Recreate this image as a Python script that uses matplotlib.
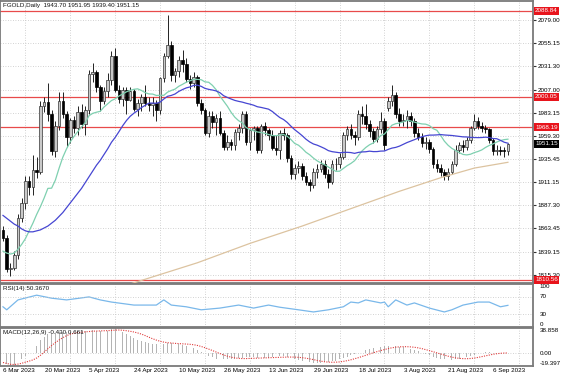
import numpy as np
import pandas as pd
import matplotlib
matplotlib.use('Agg')
import matplotlib.pyplot as plt
from matplotlib.transforms import blended_transform_factory

plt.rcParams['font.family'] = ['Liberation Sans', 'DejaVu Sans']

# --- FGOLD daily bars ---
opens = [1862, 1854, 1821, 1823, 1836, 1874, 1890, 1913, 1906, 1924, 1922, 1990, 1994, 1982, 1944, 1970,
         1995, 1982, 1958, 1976, 1967, 1984, 1972, 1986, 2023, 2025, 2010, 1995, 2006, 2017, 2042, 2007,
         1998, 2007, 1997, 2006, 1987, 1993, 2000, 1993, 1991, 1993, 1986, 2019, 2042, 2053, 2022, 2027,
         2038, 2034, 2018, 2014, 2020, 1993, 1986, 1962, 1980, 1974, 1978, 1962, 1948, 1953, 1950, 1963,
         1968, 1982, 1953, 1965, 1967, 1945, 1970, 1965, 1960, 1947, 1945, 1962, 1960, 1936, 1920, 1926,
         1928, 1918, 1912, 1908, 1922, 1925, 1930, 1920, 1912, 1930, 1930, 1938, 1960, 1966, 1960, 1958,
         1982, 1980, 1972, 1964, 1956, 1966, 1975, 1988, 1995, 2002, 1982, 1975, 1976, 1980, 1975, 1962,
         1958, 1952, 1953, 1946, 1930, 1926, 1922, 1918, 1922, 1930, 1945, 1950, 1948, 1955, 1968, 1975,
         1970, 1968, 1966, 1955, 1944, 1945, 1944, 1943.70]
highs = [1866, 1857, 1828, 1840, 1878, 1895, 1918, 1918, 1940, 1938, 1995, 2000, 2014, 1986, 1975, 2005,
         2005, 1985, 1978, 1980, 1990, 1992, 1990, 2028, 2035, 2028, 2012, 2010, 2024, 2047, 2050, 2012,
         2010, 2010, 2010, 2008, 1998, 2003, 2012, 2000, 2000, 1996, 2020, 2045, 2085, 2058, 2030, 2042,
         2048, 2040, 2022, 2025, 2022, 1998, 1988, 1985, 1985, 1982, 1985, 1965, 1960, 1956, 1966, 1972,
         1985, 1985, 1968, 1970, 1970, 1972, 1974, 1968, 1965, 1960, 1965, 1968, 1962, 1940, 1930, 1933,
         1931, 1922, 1915, 1926, 1930, 1934, 1934, 1925, 1934, 1936, 1942, 1963, 1970, 1972, 1964, 1986,
         1990, 1992, 1976, 1968, 1970, 1984, 1978, 2000, 2012, 2005, 1988, 1982, 1986, 1984, 1978, 1967,
         1962, 1958, 1956, 1948, 1935, 1930, 1925, 1926, 1933, 1950, 1953, 1955, 1958, 1970, 1982, 1979,
         1974, 1971, 1968, 1957, 1950, 1949, 1948, 1951.95]
lows = [1850, 1818, 1814, 1820, 1832, 1870, 1884, 1898, 1898, 1916, 1920, 1984, 1975, 1940, 1938, 1965,
        1978, 1948, 1952, 1962, 1960, 1968, 1960, 1982, 2015, 2005, 1985, 1992, 2000, 2012, 2005, 1993,
        1990, 1982, 1995, 1985, 1980, 1985, 1990, 1985, 1980, 1975, 1982, 2015, 2040, 2016, 2015, 2020,
        2025, 2015, 2008, 2010, 1990, 1982, 1960, 1958, 1968, 1960, 1960, 1945, 1945, 1945, 1945, 1955,
        1962, 1950, 1945, 1955, 1942, 1942, 1960, 1955, 1945, 1940, 1935, 1955, 1932, 1915, 1915, 1921,
        1914, 1908, 1902, 1905, 1916, 1922, 1916, 1905, 1910, 1924, 1926, 1935, 1955, 1956, 1950, 1955,
        1972, 1966, 1958, 1952, 1953, 1962, 1945, 1985, 1990, 1978, 1970, 1970, 1968, 1970, 1958, 1955,
        1948, 1946, 1942, 1926, 1922, 1918, 1914, 1914, 1920, 1928, 1942, 1943, 1945, 1952, 1965, 1966,
        1963, 1962, 1952, 1940, 1940, 1940, 1938, 1939.40]
closes = [1854, 1821, 1823, 1836, 1874, 1890, 1913, 1906, 1924, 1922, 1990, 1994, 1982, 1944, 1970, 1995,
          1982, 1958, 1976, 1967, 1984, 1972, 1986, 2023, 2025, 2010, 1995, 2006, 2017, 2042, 2007, 1998,
          2007, 1997, 2006, 1987, 1993, 2000, 1993, 1991, 1993, 1986, 2019, 2042, 2053, 2022, 2027, 2038,
          2034, 2018, 2014, 2020, 1993, 1986, 1962, 1980, 1974, 1978, 1962, 1948, 1953, 1950, 1963, 1968,
          1982, 1953, 1965, 1967, 1945, 1970, 1965, 1960, 1947, 1945, 1962, 1960, 1936, 1920, 1926, 1928,
          1918, 1912, 1908, 1922, 1925, 1930, 1920, 1912, 1930, 1930, 1938, 1960, 1966, 1960, 1958, 1982,
          1980, 1972, 1964, 1956, 1966, 1975, 1950, 1995, 2002, 1982, 1975, 1976, 1980, 1975, 1962, 1958,
          1952, 1953, 1946, 1930, 1926, 1922, 1918, 1922, 1930, 1945, 1950, 1948, 1955, 1968, 1975, 1970,
          1968, 1966, 1955, 1944, 1945, 1944, 1943.70, 1951.15]

fast_period = 14
fast_start = [1840, 1838, 1837, 1838, 1842, 1847, 1853, 1861, 1869, 1878, 1886, 1895, 1905]
mid_period = 30
mid_start = [1877, 1874, 1871, 1868, 1866, 1863, 1861, 1860, 1860, 1861, 1862, 1864, 1866, 1869, 1872,
             1876, 1880, 1885, 1890, 1895, 1900, 1905, 1911, 1917, 1923, 1929, 1934, 1940, 1946]
slow_idx = [34, 52, 66, 80, 93, 106, 117, 126, 135]
slow_ma = [1806, 1828, 1848, 1866, 1884, 1902, 1916, 1926, 1932]

levels = [2088.84, 2000.05, 1968.19, 1810.56]
price_ticks = [2079.00, 2055.15, 2031.30, 2007.00, 1983.15, 1959.30, 1935.45, 1911.15, 1887.30, 1863.45,
               1839.15, 1815.30]

# RSI(14), read at a few bars
rsi_idx = [0, 1, 4, 9, 13, 17, 23, 26, 29, 35, 41, 43, 45, 49, 53, 58, 63, 67, 71, 74, 79, 83, 87, 91, 93,
           95, 97, 101, 102, 103, 105, 108, 110, 114, 118, 120, 123, 127, 130, 133, 135]
rsi_vals = [47, 40, 63, 74, 67, 63, 70, 63, 58, 51, 51, 63, 51, 47, 40, 44, 51, 44, 51, 46, 40, 35, 40, 47,
            58, 56, 63, 56, 58, 47, 63, 51, 56, 44, 35, 40, 51, 58, 58, 47, 50.367]

# MACD(12,26,9) main line
macd_main = [-14, -17, -19.397, -18, -14, -9, -4, 0, 5, 12,
             20, 25, 29, 30, 31, 32, 33, 32, 33, 33,
             34, 34, 35, 36, 36, 35, 34, 34, 35, 37,
             38.858, 36, 33, 30, 27, 24, 21, 19, 17, 16,
             15, 14, 14, 15, 16, 16, 15, 14, 13, 12,
             10, 8, 5, 2, -1, -4, -6, -8, -9, -9,
             -9, -9, -8, -7, -7, -6, -6, -6, -7, -7,
             -7, -7, -6, -5, -4, -4, -5, -6, -8, -10,
             -12, -13, -14, -15, -15, -15, -14, -13, -12, -11,
             -9, -7, -5, -3, -1, 1, 3, 5, 7, 8,
             9, 10, 11, 12, 12, 11, 10, 9, 8, 6,
             5, 3, 1, -1, -3, -5, -7, -8, -9, -10,
             -10, -9, -8, -7, -6, -4, -2, 0, 1, 2,
             2, 1, 0.579, 0, -0.2, -0.43]

date_pos = [0, 10, 22, 34, 46, 58, 70, 82, 94, 106, 118, 130]
date_labels = ['6 Mar 2023', '20 Mar 2023', '5 Apr 2023', '24 Apr 2023', '10 May 2023', '26 May 2023',
               '13 Jun 2023', '29 Jun 2023', '18 Jul 2023', '3 Aug 2023', '21 Aug 2023', '6 Sep 2023']
vgrid = [6, 18, 30, 42, 54, 66, 78, 90, 102, 114, 126, 138]

df = pd.DataFrame({'open': opens, 'high': highs, 'low': lows, 'close': closes})
x = np.arange(len(df))

fast = df['close'].rolling(fast_period).mean()
fast.iloc[:len(fast_start)] = fast_start
mid = df['close'].rolling(mid_period).mean()
mid.iloc[:len(mid_start)] = mid_start
signal = pd.Series(macd_main).rolling(9, min_periods=1).mean()

FS = 4.5
frame = '#7a7a7a'
grid_kw = dict(color='#c4c4c4', linestyle=(0, (1, 2)), linewidth=0.6)

fig = plt.figure(figsize=(5.64, 3.76), dpi=100)
ax = fig.add_axes([0.0, 0.2473, 0.945, 0.750])
ax_rsi = fig.add_axes([0.0, 0.1303, 0.945, 0.1144])
ax_macd = fig.add_axes([0.0, 0.0266, 0.945, 0.101])

for a in (ax, ax_rsi, ax_macd):
    a.set_xlim(-0.8, 141.7)
    a.set_xticks(vgrid)
    a.tick_params(axis='x', length=0, labelbottom=False)
    for s in a.spines.values():
        s.set_color(frame)
        s.set_linewidth(1.3)
    a.grid(axis='x', **grid_kw)
    a.set_axisbelow(True)

# --- main price panel ---
ax.set_ylim(1807.0, 2099.0)
ax.yaxis.tick_right()
ax.set_yticks(price_ticks)
ax.set_yticklabels([f'{p:.2f}' for p in price_ticks], fontsize=FS)
ax.tick_params(axis='y', length=2, pad=1.5, color='#333333')
ax.grid(axis='y', **grid_kw)

up = df['close'] >= df['open']
body_lo = np.minimum(df['open'], df['close'])
body_h = np.maximum((df['close'] - df['open']).abs(), 0.7)
ax.vlines(x, df['low'], df['high'], color='#222222', linewidth=0.7, zorder=2)
ax.bar(x[up], body_h[up], bottom=body_lo[up], width=0.7, color='#c9c9c9',
       edgecolor='#333333', linewidth=0.5, zorder=3)
ax.bar(x[~up], body_h[~up], bottom=body_lo[~up], width=0.7, color='#000000',
       edgecolor='#000000', linewidth=0.5, zorder=3)

ax.plot(x, fast, color='#7fd0b0', linewidth=0.9, zorder=4)
ax.plot(x, mid, color='#4646d2', linewidth=0.9, zorder=4)
ax.plot(slow_idx, slow_ma, color='#dcc3a0', linewidth=0.9, zorder=4)

for lv in levels:
    ax.axhline(lv, color='#e84a4a', linewidth=0.9, zorder=1)

ytrans = blended_transform_factory(ax.transAxes, ax.transData)
for lv in levels:
    ax.text(1.004, lv, f'{lv:.2f}', transform=ytrans, fontsize=FS, color='white', va='center', ha='left',
            bbox=dict(facecolor='#e8141c', edgecolor='none', boxstyle='square,pad=0.25'), zorder=6,
            clip_on=False)
ax.text(1.004, closes[-1], f'{closes[-1]:.2f}', transform=ytrans, fontsize=FS, color='white', va='center',
        ha='left', bbox=dict(facecolor='#000000', edgecolor='none', boxstyle='square,pad=0.25'), zorder=6,
        clip_on=False)

ax.text(0.006, 0.993, f'FGOLD,Daily  {opens[-1]:.2f} {highs[-1]:.2f} {lows[-1]:.2f} {closes[-1]:.2f}',
        transform=ax.transAxes, fontsize=FS, va='top', ha='left', color='#111111')

# --- RSI panel ---
ax_rsi.set_ylim(0, 100)
ax_rsi.set_yticks([])
ax_rsi.plot(rsi_idx, rsi_vals, color='#7ab8ea', linewidth=0.9)
for lv in (30, 70):
    ax_rsi.axhline(lv, **grid_kw)
rtrans = blended_transform_factory(ax_rsi.transAxes, ax_rsi.transData)
for v, va in ((100, 'top'), (70, 'center'), (30, 'center'), (0, 'bottom')):
    ax_rsi.text(1.012, v, str(v), transform=rtrans, fontsize=FS, va=va, ha='left', clip_on=False)
ax_rsi.text(0.006, 0.95, f'RSI(14) {rsi_vals[-1]:.4f}', transform=ax_rsi.transAxes, fontsize=FS,
            va='top', ha='left', color='#111111')

# --- MACD panel ---
ax_macd.set_ylim(-19.397, 38.858)
ax_macd.set_yticks([])
ax_macd.bar(x, macd_main, width=0.22, color='#b4b4b4', zorder=2)
ax_macd.plot(x, signal, color='#e03a3a', linestyle=(0, (1, 1.2)), linewidth=0.8, zorder=3)
ax_macd.axhline(0, **grid_kw)
mtrans = blended_transform_factory(ax_macd.transAxes, ax_macd.transData)
for v, s, va in ((38.858, '38.858', 'top'), (0, '0.00', 'center'), (-19.397, '-19.397', 'bottom')):
    ax_macd.text(1.012, v, s, transform=mtrans, fontsize=FS, va=va, ha='left', clip_on=False)
ax_macd.text(0.006, 0.95, f'MACD(12,26,9) {macd_main[-1]:.3f} {signal.iloc[-1]:.3f}',
             transform=ax_macd.transAxes, fontsize=FS, va='top', ha='left', color='#111111')

dtrans = blended_transform_factory(ax_macd.transData, ax_macd.transAxes)
for p, lab in zip(date_pos, date_labels):
    ax_macd.text(p + (0.1 if p == 0 else 1.1), -0.05, lab, transform=dtrans, fontsize=FS,
                 va='top', ha='left', clip_on=False)

fig.savefig('out.png', dpi=100)
